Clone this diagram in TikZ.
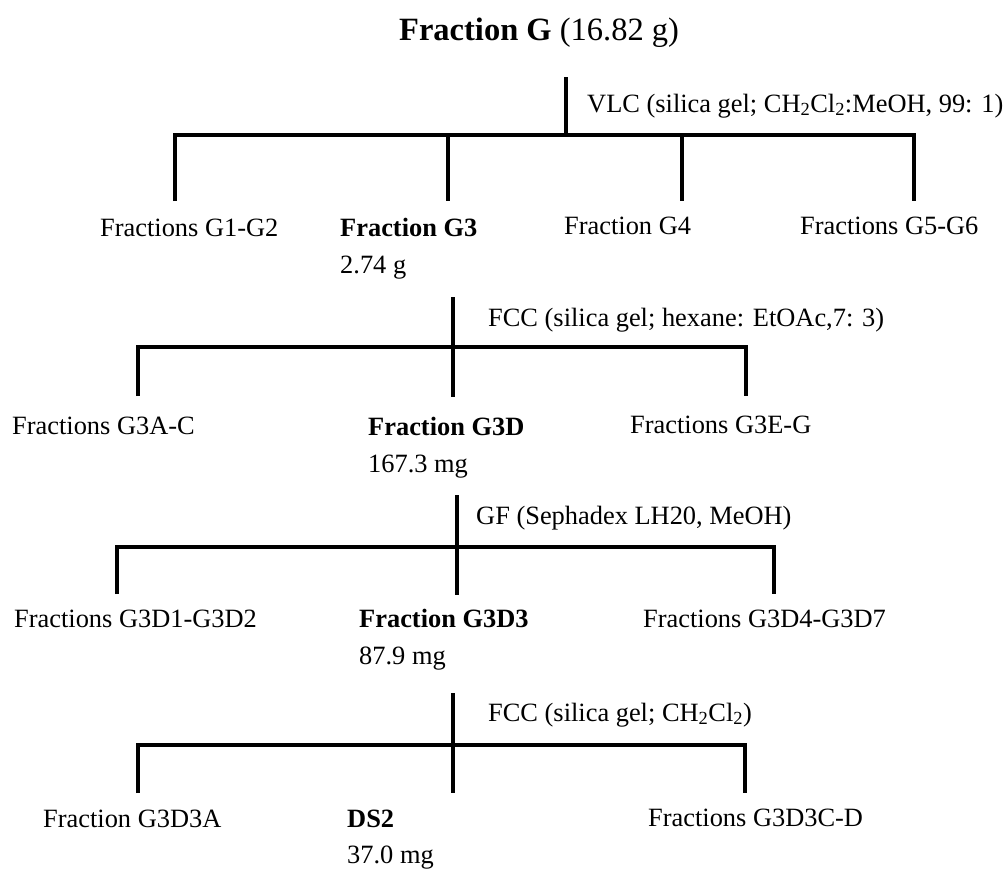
\documentclass[tikz,border=0pt]{standalone}
\usepackage{fontspec}
\setmainfont{Liberation Serif}
\begin{document}
\begin{tikzpicture}[x=1pt,y=-1pt,
  lbl/.style={font=\fontsize{26.4}{30}\selectfont, inner sep=0pt, anchor=base west},
  boldlbl/.style={lbl, font=\fontsize{26.4}{30}\selectfont\bfseries},
  tree/.style={line width=3.4pt, line join=miter}]
\useasboundingbox (0,0) rectangle (1007,868);

% title
\node[lbl, font=\fontsize{32.5}{36}\selectfont] (G) at (399,40) {\textbf{Fraction G} (16.82 g)};

% ---------- level 1
\coordinate (s1t) at (566,77);
\coordinate (s1b) at (566,135);
\coordinate (a1) at (175,201);
\coordinate (a1t) at (175,135);
\coordinate (b1) at (448,201);
\coordinate (b1t) at (448,135);
\coordinate (c1) at (682,201);
\coordinate (c1t) at (682,135);
\coordinate (d1) at (914,201);
\coordinate (d1t) at (914,135);
\draw[tree] (s1t) -- (s1b);
\draw[tree] (a1) -- (a1t) -- (d1t) -- (d1);
\draw[tree] (b1t) -- (b1);
\draw[tree] (c1t) -- (c1);
\node[lbl] (vlc) at (587,112) {VLC (silica gel; CH\textsubscript{2}Cl\textsubscript{2}:MeOH, 99: 1)};

\node[lbl] (g12) at (100,236) {Fractions G1-G2};
\node[boldlbl] (g3) at (340,236) {Fraction G3};
\node[lbl] (g3m) at (340,273) {2.74 g};
\node[lbl] (g4) at (564,234) {Fraction G4};
\node[lbl] (g56) at (800,234) {Fractions G5-G6};

% ---------- level 2
\coordinate (s2t) at (453,297);
\coordinate (s2b) at (453,397);
\coordinate (a2) at (138,396);
\coordinate (a2t) at (138,347);
\coordinate (c2) at (746,396);
\coordinate (c2t) at (746,347);
\draw[tree] (s2t) -- (s2b);
\draw[tree] (a2) -- (a2t) -- (c2t) -- (c2);
\node[lbl] (fcc1) at (488,326) {FCC (silica gel; hexane: EtOAc,7: 3)};

\node[lbl] (g3ac) at (12,434) {Fractions G3A-C};
\node[boldlbl] (g3d) at (368,435) {Fraction G3D};
\node[lbl] (g3dm) at (368,472) {167.3 mg};
\node[lbl] (g3eg) at (630,433) {Fractions G3E-G};

% ---------- level 3
\coordinate (s3t) at (457,495);
\coordinate (s3b) at (457,595);
\coordinate (a3) at (117,594);
\coordinate (a3t) at (117,547);
\coordinate (c3) at (774,594);
\coordinate (c3t) at (774,547);
\draw[tree] (s3t) -- (s3b);
\draw[tree] (a3) -- (a3t) -- (c3t) -- (c3);
\node[lbl] (gf) at (476,524) {GF (Sephadex LH20, MeOH)};

\node[lbl] (g3d12) at (14,627) {Fractions G3D1-G3D2};
\node[boldlbl] (g3d3) at (359,627) {Fraction G3D3};
\node[lbl] (g3d3m) at (359,664) {87.9 mg};
\node[lbl] (g3d47) at (643,627) {Fractions G3D4-G3D7};

% ---------- level 4
\coordinate (s4t) at (453,693);
\coordinate (s4b) at (453,793);
\coordinate (a4) at (138,793);
\coordinate (a4t) at (138,745);
\coordinate (c4) at (745,793);
\coordinate (c4t) at (745,745);
\draw[tree] (s4t) -- (s4b);
\draw[tree] (a4) -- (a4t) -- (c4t) -- (c4);
\node[lbl] (fcc2) at (488,721) {FCC (silica gel; CH\textsubscript{2}Cl\textsubscript{2})};

\node[lbl] (g3d3a) at (43,827) {Fraction G3D3A};
\node[boldlbl] (ds2) at (347,827) {DS2};
\node[lbl] (ds2m) at (347,863) {37.0 mg};
\node[lbl] (g3d3cd) at (648,826) {Fractions G3D3C-D};
\end{tikzpicture}
\end{document}
